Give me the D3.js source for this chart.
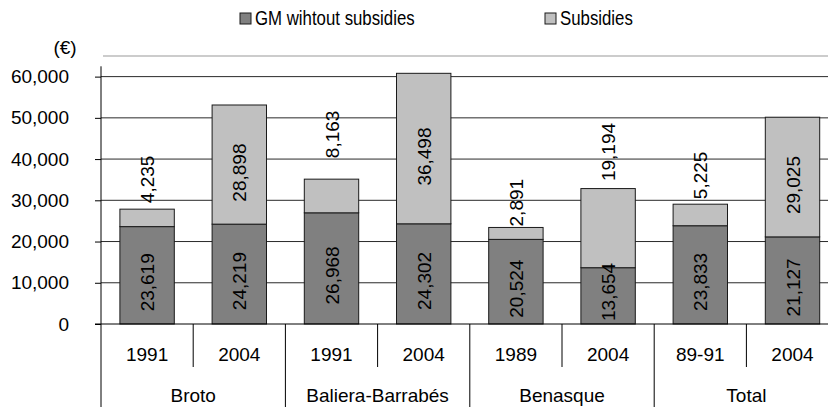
<!DOCTYPE html>
<html><head><meta charset="utf-8">
<script src="https://cdn.jsdelivr.net/npm/d3@7"></script>
<style>
html,body{margin:0;padding:0;background:#fff;}
svg text{font-family:"Liberation Sans",Arial,sans-serif;fill:#000;}
</style></head>
<body>
<svg id="chart" width="828" height="407"></svg>
<script>
// ---- data ----
const groups = ["Broto", "Baliera-Barrabés", "Benasque", "Total"];
const years = ["1991", "2004", "1991", "2004", "1989", "2004", "89-91", "2004"];
const gmWithoutSubsidies = [23619, 24219, 26968, 24302, 20524, 13654, 23833, 21127];
const subsidies = [4235, 28898, 8163, 36498, 2891, 19194, 5225, 29025];
const seriesNames = ["GM wihtout subsidies", "Subsidies"];
const yTicks = [0, 10000, 20000, 30000, 40000, 50000, 60000];
const unitLabel = "(€)";

// ---- layout ----
const W = 828, H = 407;
const left = 101, axisY = 324, topY = 56;
const step = 92.2;
const svg = d3.select("#chart");
const fmt = d3.format(",");
const FS = 19;

const idx = d3.range(years.length);
const x = d3.scaleBand().domain(idx).range([left, left + step * years.length])
  .paddingInner(0.41).paddingOuter(0.205);
const y = d3.scaleLinear().domain([0, 65000]).range([axisY, topY]);

const colGM = "#808080", colSub = "#c0c0c0", stroke = "#1a1a1a";

// top border line
svg.append("line").attr("x1", 103).attr("x2", W).attr("y1", y(65000)).attr("y2", y(65000))
  .attr("stroke", "#9a9a9a").attr("stroke-width", 1.2);

// gridlines
svg.append("g").selectAll("line").data(yTicks.filter(d => d > 0)).join("line")
  .attr("x1", left).attr("x2", W).attr("y1", d => y(d)).attr("y2", d => y(d))
  .attr("stroke", "#2a2a2a").attr("stroke-width", 1);

// y axis
const yAxis = d3.axisLeft(y).tickValues(yTicks).tickSize(6).tickPadding(26).tickFormat(fmt);
const gy = svg.append("g").attr("transform", `translate(${left},0)`).call(yAxis);
gy.select(".domain").remove();
gy.selectAll(".tick line").attr("stroke", "#000");
gy.selectAll(".tick text").attr("font-size", FS).attr("font-family", "Liberation Sans, Arial, sans-serif").attr("fill", "#000");
svg.append("line").attr("x1", left).attr("x2", left).attr("y1", y(62500)).attr("y2", axisY).attr("stroke", "#000");

svg.append("text").attr("x", 65).attr("y", 54).attr("text-anchor", "middle").attr("font-size", FS).text(unitLabel);

// bars
const bars = svg.append("g");
bars.selectAll("rect.gm").data(idx).join("rect").attr("class", "gm")
  .attr("x", i => x(i)).attr("width", x.bandwidth())
  .attr("y", i => y(gmWithoutSubsidies[i])).attr("height", i => y(0) - y(gmWithoutSubsidies[i]))
  .attr("fill", colGM).attr("stroke", stroke).attr("stroke-width", 1);
bars.selectAll("rect.sub").data(idx).join("rect").attr("class", "sub")
  .attr("x", i => x(i)).attr("width", x.bandwidth())
  .attr("y", i => y(gmWithoutSubsidies[i] + subsidies[i]))
  .attr("height", i => y(gmWithoutSubsidies[i]) - y(gmWithoutSubsidies[i] + subsidies[i]))
  .attr("fill", colSub).attr("stroke", stroke).attr("stroke-width", 1);

// x axis line
svg.append("line").attr("x1", 95).attr("x2", W).attr("y1", axisY).attr("y2", axisY).attr("stroke", "#000");

// value labels (rotated)
const labG = svg.append("g");
function rotLabel(cx, cy, txt, anchor) {
  const t = labG.append("text").attr("font-size", FS).attr("text-anchor", anchor)
    .attr("transform", `translate(${cx + 7},${cy}) rotate(-90)`).text(txt);
  return t;
}
const aboveGap = {0: 6, 2: 21, 4: 1, 5: 7.5, 6: 5};
idx.forEach(i => {
  const cx = x(i) + x.bandwidth() / 2;
  const t = rotLabel(cx, 0, fmt(gmWithoutSubsidies[i]), "middle");
  const len = t.node().getComputedTextLength();
  const mid = (y(gmWithoutSubsidies[i]) + y(0)) / 2;
  const cy = Math.min(mid + 7, axisY - 3 - len / 2);
  t.attr("transform", `translate(${cx + 7},${cy}) rotate(-90)`);
  const top = y(gmWithoutSubsidies[i] + subsidies[i]);
  if (subsidies[i] > 25000) {
    const m = (top + y(gmWithoutSubsidies[i])) / 2 + 8;
    rotLabel(cx, m, fmt(subsidies[i]), "middle");
  } else {
    rotLabel(cx, top - (aboveGap[i] ?? 6), fmt(subsidies[i]), "start");
  }
});

// category axis (two levels)
const bx = i => x(i) - x.step() * x.paddingOuter();
const catG = svg.append("g");
idx.filter(i => i % 2 === 1).forEach(i => {
  catG.append("line").attr("x1", bx(i)).attr("x2", bx(i)).attr("y1", axisY).attr("y2", 367).attr("stroke", "#000");
});
idx.filter(i => i % 2 === 0).forEach(i => {
  catG.append("line").attr("x1", bx(i)).attr("x2", bx(i)).attr("y1", axisY).attr("y2", H).attr("stroke", "#000");
});
catG.selectAll("text.yr").data(idx).join("text").attr("class", "yr")
  .attr("x", i => x(i) + x.bandwidth() / 2).attr("y", 361).attr("text-anchor", "middle")
  .attr("font-size", FS).text(i => years[i]);
catG.selectAll("text.grp").data(groups).join("text").attr("class", "grp")
  .attr("x", (d, g) => bx(2 * g) + x.step()).attr("y", 402).attr("text-anchor", "middle")
  .attr("font-size", FS).text(d => d);

// legend
const legX = [240, 545];
const legCols = [colGM, colSub];
seriesNames.forEach((n, k) => {
  svg.append("rect").attr("x", legX[k]).attr("y", 13).attr("width", 11).attr("height", 11)
    .attr("fill", legCols[k]).attr("stroke", stroke).attr("stroke-width", 1);
  const t = svg.append("text").attr("x", legX[k] + 15).attr("y", 25).attr("font-size", 20).text(n);
  const L = t.node().getComputedTextLength();
  t.attr("textLength", L * 0.84).attr("lengthAdjust", "spacingAndGlyphs");
});
</script>
</body></html>
